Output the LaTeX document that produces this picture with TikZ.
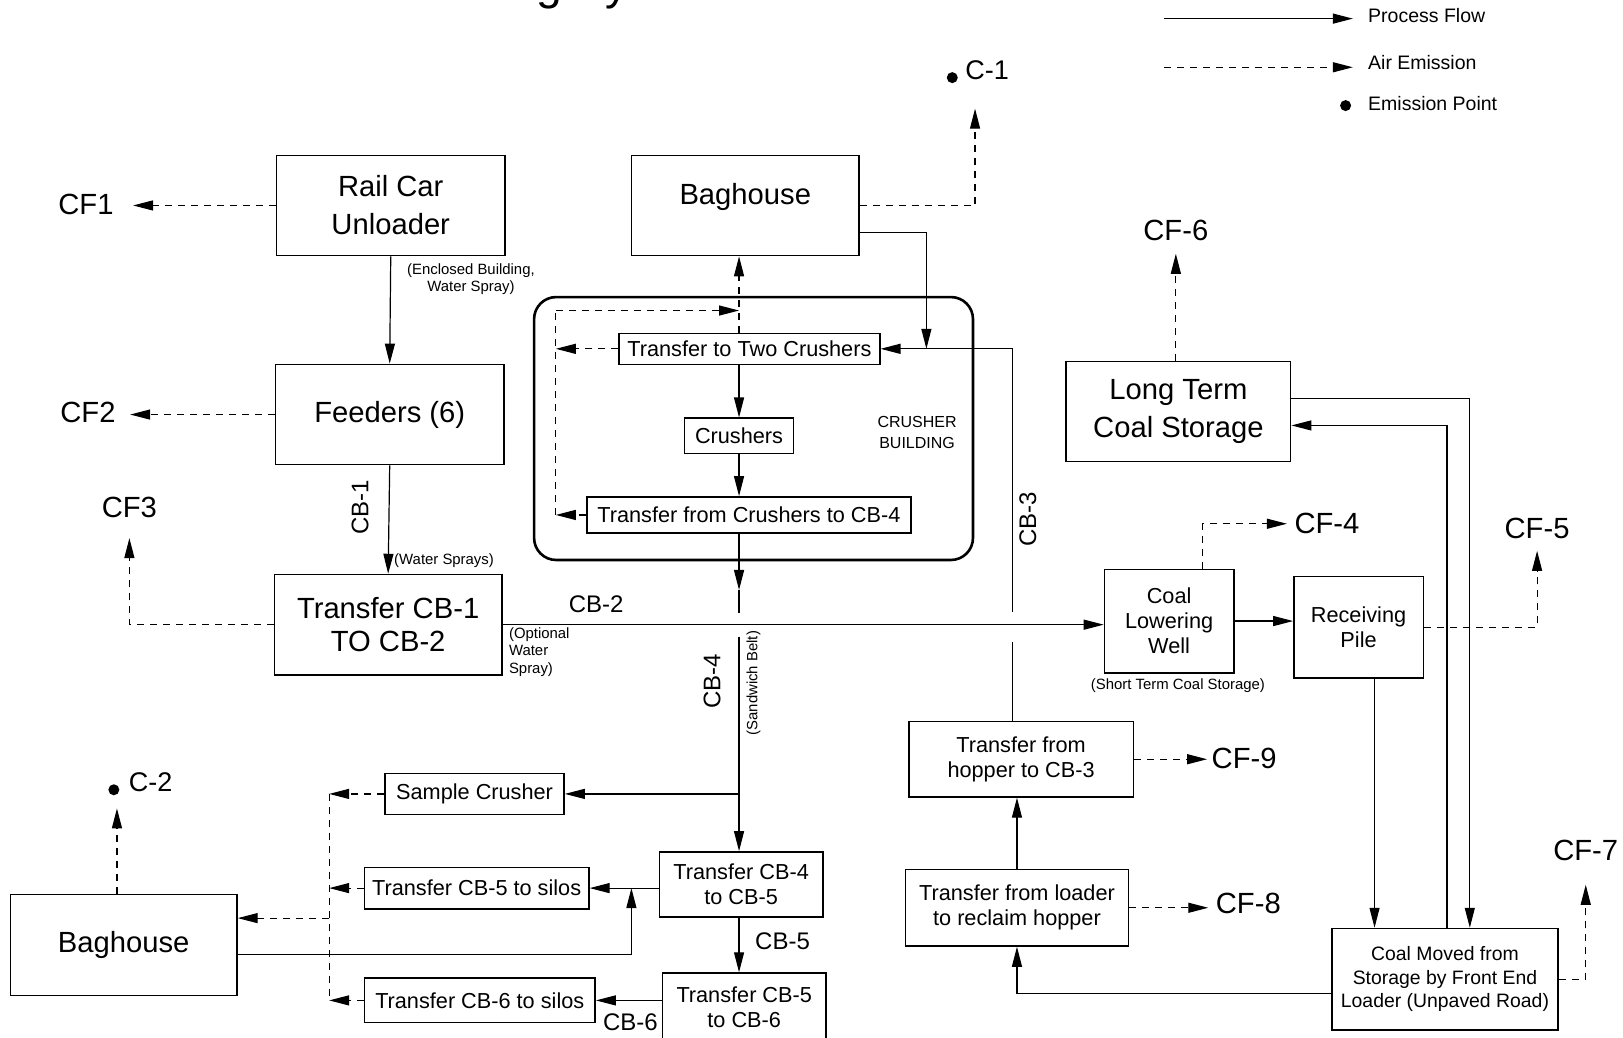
\documentclass[tikz,border=0pt]{standalone}
\usepackage{fontspec}
\setmainfont{Liberation Sans}
\usetikzlibrary{arrows.meta}
\newcommand\pxu{1.0351pt}

\begin{document}
\begin{tikzpicture}[
	x=1.0351pt, y=-1.0351pt,
	line width=1.2pt,
	box/.style 2 args={ draw, line width=1.4pt, inner sep=0pt, align=center, minimum width=#1*\pxu, minimum height=#2*\pxu },
	flow/.style={ -{Triangle[length=20pt,width=10pt]} },
	emis/.style={ dash pattern=on 7pt off 6pt, -{Triangle[length=20pt,width=10pt]} },
	emisline/.style={ dash pattern=on 7pt off 6pt },
	dot/.style={ circle, fill, inner sep=0pt, minimum size=11pt },
	bigtext/.style={ font=\fontsize{29.2}{38}\selectfont },
	midtext/.style={ font=\fontsize{21.7}{25}\selectfont },
	smalltext/.style={ font=\fontsize{19.4}{23.3}\selectfont },
	cbtext/.style={ font=\fontsize{24}{28}\selectfont },
	notetext/.style={ font=\fontsize{14.9}{17.1}\selectfont, align=center },
	cf/.style={ bigtext, inner sep=0pt }
]
\useasboundingbox (0,0) rectangle (1568,1002);

% title (cut by the top edge)
\node[anchor=base west, font=\fontsize{46.2}{50}\selectfont] (title) at (259,-0.5) {Coal Handling System};

% legend
\coordinate (lgA) at (1125,18);
\coordinate (lgB) at (1125,65);
\draw[flow] (lgA) -- ++(182,0);
\draw[emis] (lgB) -- ++(182,0);
\node[dot] (lgdot) at (1300,102) {};
\node[anchor=west, font=\fontsize{19.5}{22}\selectfont] (lgflow) at (1318,15) {Process Flow};
\node[anchor=west, font=\fontsize{19.5}{22}\selectfont] (lgemis) at (1318,60) {Air Emission};
\node[anchor=west, font=\fontsize{19.5}{22}\selectfont] (lgpoint) at (1318,100) {Emission Point};

% unloading line
\node[box={221}{97}, bigtext] (rail) at (377.5,198.5) {Rail Car\\Unloader};
\node[box={221}{97}, bigtext] (feed) at (376.5,400.5) {Feeders (6)};
\node[box={220}{97}, font=\fontsize{29.2}{33}\selectfont] (tcb12) at (375,603.5) {Transfer CB-1\\TO CB-2};
\node[cf] (cf1) at (83,198) {CF1};
\node[cf] (cf2) at (85,398) {CF2};
\node[cf] (cf3) at (125,490) {CF3};
\draw[emis, shorten >=19pt] (rail.west) -- (rail.west -| cf1.east);
\draw[emis, shorten >=14pt] (feed.west) -- (feed.west -| cf2.east);
\draw[emis, shorten >=20pt] (tcb12.west) -| (cf3.south);
\draw[flow] (rail.south) -- (feed.north);
\draw[flow] (feed.south) -- (tcb12.north);
\node[notetext] (railnote) at (455,270) {(Enclosed Building,\\Water Spray)};
\node[cbtext, rotate=90] (cb1) at (348,490) {CB-1};
\node[notetext] (feednote) at (429,542) {(Water Sprays)};

% crusher building
\node[draw, line width=2.6pt, rounded corners=22pt, minimum width=424*\pxu, minimum height=254*\pxu] (bldg) at (728,414) {};
\node[box={220}{97}, bigtext, text depth=24pt] (bagA) at (720,198.5) {Baghouse};
\node[box={252}{30}, midtext] (ttc) at (724,337) {Transfer to Two Crushers};
\node[box={105}{34}, midtext] (crush) at (714,421) {Crushers};
\node[box={313}{35}, midtext] (tfc) at (723.5,497.5) {Transfer from Crushers to CB-4};
\node[font=\fontsize{16}{21}\selectfont, align=center] (bldgname) at (886,418) {CRUSHER\\BUILDING};
\draw[flow] (ttc.south -| crush) -- (crush.north);
\draw[flow] (crush.south) -- (crush.south |- tfc.north);
\coordinate (loopTL) at (537,300);
\foreach \n in {ttc,tfc} \draw[emis] (\n.west) -- (\n.west -| loopTL);
\draw[emisline] (tfc.west -| loopTL) -- (loopTL);
\draw[emis] (loopTL) -- (loopTL -| crush);
\draw[emis] (ttc.north -| crush) -- (bagA.south -| crush);
\coordinate (c1tip) at (942,105);
\coordinate (bagret) at (895,337);
\draw[emis] (bagA.east) -| (c1tip);
\draw[flow] ([yshift=-27.4pt]bagA.east) -| (bagret);
\node[dot] (c1dot) at (920,75) {};
\node[cf, anchor=west, font=\fontsize{27}{30}\selectfont] (c1) at (932,68) {C-1};

% CB-2 and CB-4
\node[box={125}{100}, midtext] (clw) at (1129.5,600) {Coal\\Lowering\\Well};
\node[box={125}{98}, midtext] (rpile) at (1312.5,606) {Receiving\\Pile};
\node[box={158}{63}, midtext] (cb45) at (716,854.5) {Transfer CB-4\\to CB-5};
\node[box={158}{66}, midtext] (cb56) at (719,973) {Transfer CB-5\\to CB-6};
\coordinate (cb4arr) at (714,570);
\coordinate (cb4gapT) at (714,592);
\coordinate (cb4gapB) at (714,615);
\draw[flow] (tfc.south -| crush) -- (cb4arr);
\draw (cb4arr) -- (cb4gapT);
\draw[flow] (cb4gapB) -- (cb45.north -| crush);
\draw[flow] (tcb12.east) -- (tcb12.east -| clw.west);
\draw[flow] (clw.east) -- (clw.east -| rpile.west);
\node[cbtext] (cb2) at (576,584) {CB-2};
\node[notetext, align=left, anchor=west] (tcbnote) at (488,630) {(Optional\\Water\\Spray)};
\node[cbtext, rotate=90] (cb4) at (688,658) {CB-4};
\node[notetext, rotate=90] (cb4note) at (728,660) {(Sandwich Belt)};
\node[notetext] (clwnote) at (1138,662) {(Short Term Coal Storage)};
\node[cf] (cf4) at (1282,506) {CF-4};
\node[cf] (cf5) at (1485,511) {CF-5};
\draw[emis, shorten >=7pt] ([xshift=33.6pt]clw.north) |- (cf4.west);
\draw[emis, shorten >=11pt] (rpile.east) -| (cf5.south);

% silos and second baghouse
\node[box={173}{40}, midtext] (samp) at (458.5,767) {Sample Crusher};
\node[box={217}{40}, midtext] (silo5) at (460.5,858) {Transfer CB-5 to silos};
\node[box={223}{43}, midtext] (silo6) at (463.5,966.5) {Transfer CB-6 to silos};
\node[box={219}{98}, bigtext] (bagB) at (119.5,913) {Baghouse};
\draw[flow] (samp.east -| crush) -- (samp.east);
\draw[flow] (silo5.east -| cb45.west) -- (silo5.east);
\draw[flow] (cb45.south -| crush) -- (cb56.north -| crush);
\draw[flow] (silo6.east -| cb56.west) -- (silo6.east);
\coordinate (bagBret) at (610,858);
\draw[flow] ([yshift=-9.3pt]bagB.east) -| (bagBret);
\node[cbtext] (cb5) at (756,909) {CB-5};
\node[cbtext] (cb6) at (609,988) {CB-6};
\coordinate (dcol) at (318,767);
\coordinate (dbag) at (318,887);
\foreach \n in {samp,silo5,silo6} \draw[emis] (\n.west) -- (\n.west -| dcol);
\draw[emisline] (dcol) -- (silo6.west -| dcol);
\draw[emis] (dbag) -- (dbag -| bagB.east);
\coordinate (c2tip) at (113,781);
\draw[emis] (c2tip |- bagB.north) -- (c2tip);
\node[dot] (c2dot) at (110,763) {};
\node[cf, anchor=west, font=\fontsize{27}{30}\selectfont] (c2) at (124,756) {C-2};

% storage and reclaim
\node[box={217}{97}, bigtext] (ltcs) at (1138.5,397.5) {Long Term\\Coal Storage};
\node[box={218}{98}, smalltext] (cmove) at (1396,946) {Coal Moved from\\Storage by Front End\\Loader (Unpaved Road)};
\node[box={217}{73}, midtext] (hop) at (986.5,733.5) {Transfer from\\hopper to CB-3};
\node[box={215}{74}, midtext] (load) at (982.5,877) {Transfer from loader\\to reclaim hopper};
\node[cf] (cf6) at (1136,223) {CF-6};
\node[cf] (cf7) at (1532,822) {CF-7};
\node[cf] (cf8) at (1206,873) {CF-8};
\node[cf] (cf9) at (1202,733) {CF-9};
\draw[emis, shorten >=12pt] (cf6.south |- ltcs.north) -- (cf6.south);
\draw[emis, shorten >=23pt] (cmove.east) -| (cf7.south);
\draw[emis, shorten >=7pt] (load.east) -- (load.east -| cf8.west);
\draw[emis, shorten >=4pt] (hop.east) -- (hop.east -| cf9.west);
\coordinate (rtA) at (1420,385);
\coordinate (rtB) at (1398,411);
\draw[flow] ([yshift=12.9pt]ltcs.east) -| (rtA |- cmove.north);
\draw[flow] (rtB |- cmove.north) |- ([yshift=-14pt]ltcs.east);
\draw[flow] ([xshift=16pt]rpile.south) -- ([xshift=16pt]rpile.south |- cmove.north);
\draw[flow] ([yshift=-14.5pt]cmove.west) -| (load.south);
\draw[flow] (load.north) -- (load.north |- hop.south);
\coordinate (cb3top) at (978,337);
\coordinate (cb3gapT) at (978,591);
\coordinate (cb3gapB) at (978,620);
\draw (cb3top |- hop.north) -- (cb3gapB);
\draw[flow] (cb3gapT) -- (cb3top) -- (ttc.east);
\node[cbtext, rotate=90] (cb3) at (993,502) {CB-3};

\end{tikzpicture}
\end{document}
